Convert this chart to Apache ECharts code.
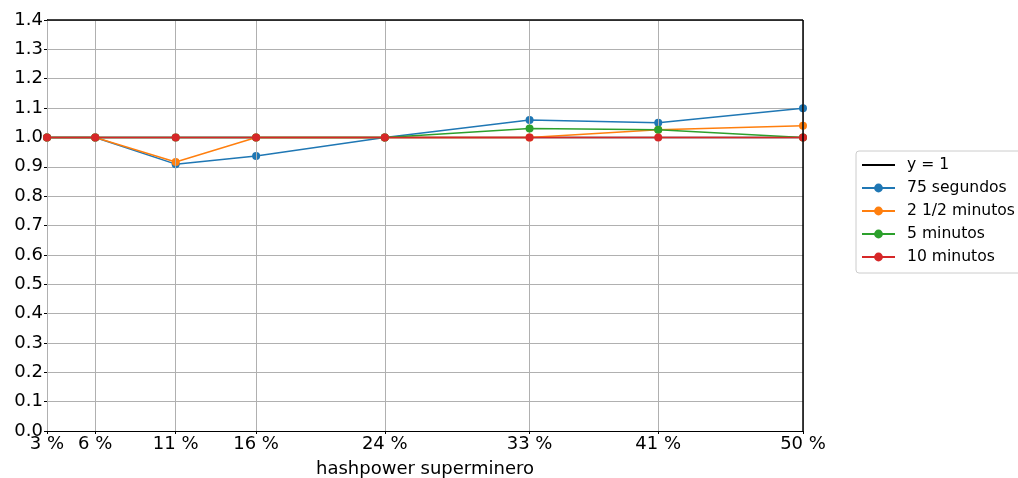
<!DOCTYPE html>
<html><head><meta charset="utf-8">
<script src="https://cdn.jsdelivr.net/npm/echarts@6/dist/echarts.min.js"></script>
<style>html,body{margin:0;padding:0;background:#fff}#c{width:1018px;height:478px}</style>
</head><body><div id="c"></div>
<script>
const xValues = [3, 6, 11, 16, 24, 33, 41, 50];
const xLabels = ['3 %', '6 %', '11 %', '16 %', '24 %', '33 %', '41 %', '50 %'];
const seriesNames = ['75 segundos', '2 1/2 minutos', '5 minutos', '10 minutos'];
const s75seg = [1.0, 1.0, 0.909, 0.937, 1.0, 1.059, 1.050, 1.099];
const s2half = [1.0, 1.0, 0.916, 1.0, 1.0, 1.0, 1.026, 1.040];
const s5min = [1.0, 1.0, 1.0, 1.0, 1.0, 1.030, 1.026, 1.0];
const s10min = [1.0, 1.0, 1.0, 1.0, 1.0, 1.0, 1.0, 1.0];
const refLine = [[3, 1], [50, 1]];
const colors = ['#1f77b4', '#ff7f0e', '#2ca02c', '#d62728'];

const font = 'DejaVu Sans';
const chart = echarts.init(document.getElementById('c'));
const dataSets = [s75seg, s2half, s5min, s10min];
const series = [{
  name: 'y = 1', type: 'line', data: refLine, symbol: 'none',
  lineStyle: {color: '#000', width: 1.5}, itemStyle: {color: '#000'}, z: 2,
  markLine: {
    silent: true, symbol: 'none', label: {show: false},
    lineStyle: {color: '#b0b0b0', width: 1, type: 'solid'},
    data: xValues.map(v => ({xAxis: v}))
  }
}];
dataSets.forEach((d, i) => {
  series.push({
    name: seriesNames[i], type: 'line',
    data: d.map((v, j) => [xValues[j], v]),
    symbol: 'circle', symbolSize: 8,
    lineStyle: {color: colors[i], width: 1.5},
    itemStyle: {color: colors[i]}, z: 3 + i
  });
});
chart.setOption({
  animation: false,
  grid: {left: 47, right: 215, top: 20, bottom: 47, containLabel: false, outerBoundsMode: 'none'},
  legend: {
    left: 856, top: 151, orient: 'vertical',
    data: [{name: 'y = 1', itemStyle: {opacity: 0}}, ...seriesNames],
    borderColor: '#cccccc', borderWidth: 1, borderRadius: 3,
    padding: [5, 20, 7, 5], itemGap: 5, itemWidth: 33, itemHeight: 11,
    textStyle: {fontFamily: font, fontSize: 15.6, color: '#000', padding: [0, 0, 0, 7], height: 18, lineHeight: 18},
    backgroundColor: '#fff'
  },
  xAxis: {
    type: 'value', min: 3, max: 50,
    name: 'hashpower superminero', nameLocation: 'middle', nameGap: 29,
    nameTextStyle: {fontFamily: font, fontSize: 18, color: '#000'},
    axisLine: {onZero: false, lineStyle: {color: '#000', width: 1}},
    axisTick: {show: true, customValues: xValues, length: 3, lineStyle: {color: '#000'}},
    axisLabel: {customValues: xValues, formatter: v => xLabels[xValues.indexOf(v)] || '',
      fontFamily: font, fontSize: 18, color: '#000', margin: 4},
    splitLine: {show: false}
  },
  yAxis: {
    type: 'value', min: 0, max: 1.4, interval: 0.1,
    axisLine: {show: true, lineStyle: {color: '#000', width: 1}},
    axisTick: {show: true, length: 3, lineStyle: {color: '#000'}},
    axisLabel: {formatter: v => v.toFixed(1), fontFamily: font, fontSize: 18, color: '#000', margin: 4},
    splitLine: {show: true, lineStyle: {color: '#b0b0b0', width: 1}}
  },
  series: series,
  graphic: [{
    type: 'rect', shape: {x: 803, y: 20, width: 0, height: 411}, z: 10,
    style: {stroke: '#000', lineWidth: 1, fill: null}
  }, {
    type: 'rect', shape: {x: 47, y: 20, width: 756, height: 0}, z: 10,
    style: {stroke: '#000', lineWidth: 1, fill: null}
  }]
});
</script></body></html>
